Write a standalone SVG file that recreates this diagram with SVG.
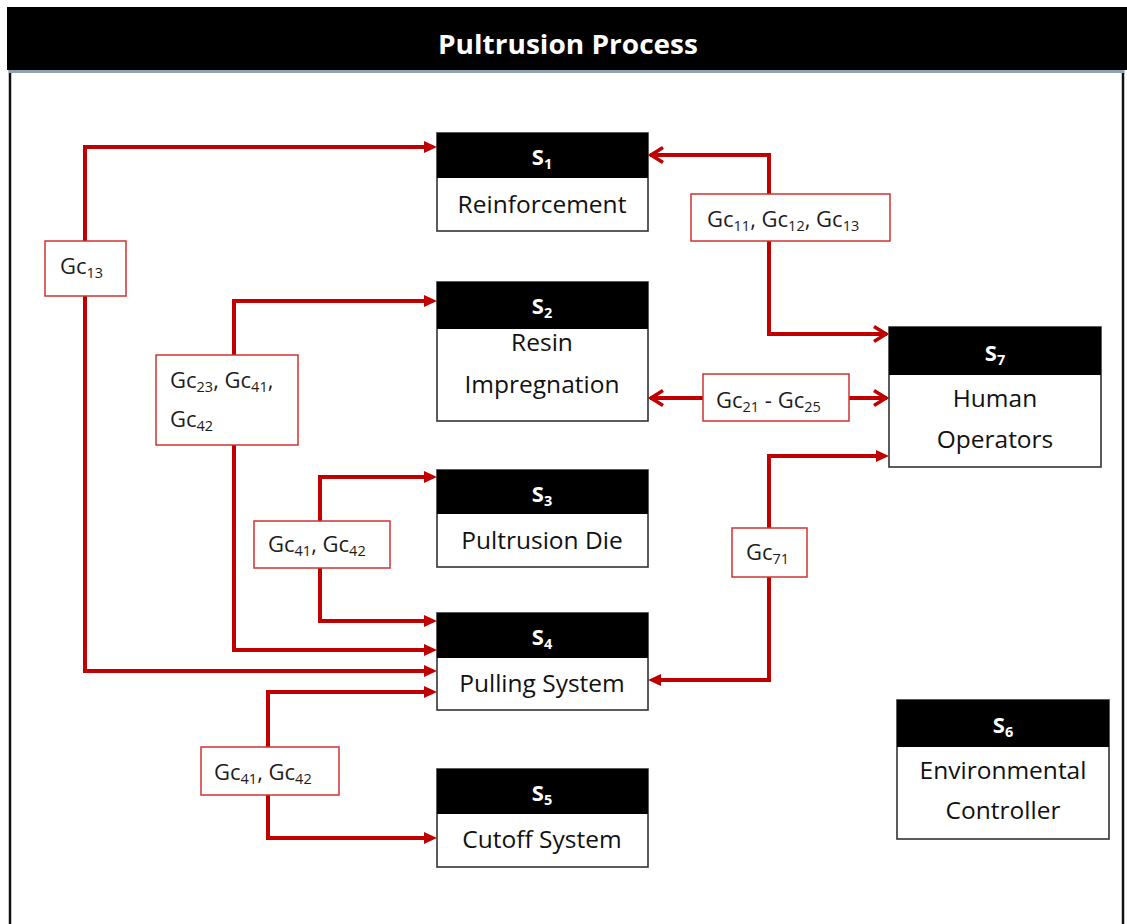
<svg xmlns="http://www.w3.org/2000/svg" width="1127" height="924" viewBox="0 0 1127 924">
  <style>
    .frame { fill: #ffffff; stroke: #111111; stroke-width: 2.5; }
    .title { font-family: "Open Sans", "Liberation Sans", sans-serif; font-weight: bold; font-size: 27px; fill: #ffffff; }
    .box { fill: #ffffff; stroke: #333333; stroke-width: 1.6; }
    .head { fill: #000000; }
    .hd { font-family: "Open Sans", "Liberation Sans", sans-serif; font-weight: bold; font-size: 22px; fill: #ffffff; text-anchor: middle; }
    .body { font-family: "Open Sans", "Liberation Sans", sans-serif; font-size: 24.5px; fill: #111111; text-anchor: middle; }
    .lbox { fill: #ffffff; stroke: #d03232; stroke-width: 1.5; }
    .lbl { font-family: "Open Sans", "Liberation Sans", sans-serif; font-size: 22px; fill: #1c1c1c; }
    .sub { font-size: 14.5px; }
    .wire { fill: none; stroke: #c00000; stroke-width: 4; }
  </style>
  <defs>
    <marker id="tri" markerUnits="userSpaceOnUse" markerWidth="16" markerHeight="16" viewBox="0 -8 16 16" refX="0" refY="0" orient="auto-start-reverse">
      <path d="M0,-6 L13,0 L0,6 z" fill="#c00000"/>
    </marker>
    <marker id="chev" markerUnits="userSpaceOnUse" markerWidth="20" markerHeight="20" viewBox="-16 -10 20 20" refX="0" refY="0" orient="auto-start-reverse">
      <path d="M-13,-7.5 L-1,0 L-13,7.5" fill="none" stroke="#c00000" stroke-width="3.5" stroke-linejoin="miter"/>
    </marker>
  </defs>

  <!-- page frame and title bar -->
  <rect x="10" y="70" width="1113" height="870" class="frame"/>
  <rect x="7" y="7" width="1120" height="63" fill="#000000"/>
  <rect x="9" y="70" width="1115" height="3" fill="#8ea2b2"/>
  <text x="568" y="54" class="title" text-anchor="middle" textLength="260" lengthAdjust="spacingAndGlyphs">Pultrusion Process</text>

  <!-- connectors -->
  <g id="connectors">
    <path class="wire" d="M424,671 H85 V147 H424" marker-start="url(#tri)" marker-end="url(#tri)"/>
    <path class="wire" d="M424,650 H234 V301 H424" marker-start="url(#tri)" marker-end="url(#tri)"/>
    <path class="wire" d="M424,621 H320 V477 H424" marker-start="url(#tri)" marker-end="url(#tri)"/>
    <path class="wire" d="M424,692 H268 V838 H424" marker-start="url(#tri)" marker-end="url(#tri)"/>
    <path class="wire" d="M650,155 H769 V334 H887" marker-start="url(#chev)" marker-end="url(#chev)"/>
    <path class="wire" d="M650,398 H887" marker-start="url(#chev)" marker-end="url(#chev)"/>
    <path class="wire" d="M661,680 H769 V456 H876" marker-start="url(#tri)" marker-end="url(#tri)"/>

    <g id="lbl-gc13">
      <rect x="45" y="241" width="81" height="55" class="lbox"/>
      <text x="60" y="274" class="lbl">Gc<tspan class="sub" dy="4">13</tspan></text>
    </g>
    <g id="lbl-gc11">
      <rect x="691" y="194" width="199" height="47" class="lbox"/>
      <text x="707" y="227" class="lbl">Gc<tspan class="sub" dy="4">11</tspan><tspan dy="-4">, Gc</tspan><tspan class="sub" dy="4">12</tspan><tspan dy="-4">, Gc</tspan><tspan class="sub" dy="4">13</tspan></text>
    </g>
    <g id="lbl-gc23">
      <rect x="156" y="355" width="142" height="90" class="lbox"/>
      <text x="170" y="388" class="lbl">Gc<tspan class="sub" dy="4">23</tspan><tspan dy="-4">, Gc</tspan><tspan class="sub" dy="4">41</tspan><tspan dy="-4">,</tspan></text>
      <text x="170" y="427" class="lbl">Gc<tspan class="sub" dy="4">42</tspan></text>
    </g>
    <g id="lbl-gc21">
      <rect x="703" y="374" width="146" height="47" class="lbox"/>
      <text x="716" y="408" class="lbl">Gc<tspan class="sub" dy="4">21</tspan><tspan dy="-4"> - Gc</tspan><tspan class="sub" dy="4">25</tspan></text>
    </g>
    <g id="lbl-gc41a">
      <rect x="254" y="521" width="136" height="47" class="lbox"/>
      <text x="268" y="552" class="lbl">Gc<tspan class="sub" dy="4">41</tspan><tspan dy="-4">, Gc</tspan><tspan class="sub" dy="4">42</tspan></text>
    </g>
    <g id="lbl-gc71">
      <rect x="732" y="528" width="75" height="49" class="lbox"/>
      <text x="746" y="560" class="lbl">Gc<tspan class="sub" dy="4">71</tspan></text>
    </g>
    <g id="lbl-gc41b">
      <rect x="201" y="747" width="138" height="48" class="lbox"/>
      <text x="214" y="780" class="lbl">Gc<tspan class="sub" dy="4">41</tspan><tspan dy="-4">, Gc</tspan><tspan class="sub" dy="4">42</tspan></text>
    </g>
  </g>

  <!-- subsystems -->
  <g id="s1">
    <rect x="437" y="133" width="211" height="98" class="box"/>
    <rect x="437" y="133" width="211" height="45" class="head"/>
    <text x="542" y="165" class="hd">S<tspan class="sub" dy="4">1</tspan></text>
    <text x="542" y="213" class="body">Reinforcement</text>
  </g>
  <g id="s2">
    <rect x="437" y="282" width="211" height="139" class="box"/>
    <rect x="437" y="282" width="211" height="47" class="head"/>
    <text x="542" y="314" class="hd">S<tspan class="sub" dy="4">2</tspan></text>
    <text x="542" y="351" class="body">Resin</text>
    <text x="542" y="393" class="body">Impregnation</text>
  </g>
  <g id="s3">
    <rect x="437" y="470" width="211" height="97" class="box"/>
    <rect x="437" y="470" width="211" height="44" class="head"/>
    <text x="542" y="502" class="hd">S<tspan class="sub" dy="4">3</tspan></text>
    <text x="542" y="549" class="body">Pultrusion Die</text>
  </g>
  <g id="s4">
    <rect x="437" y="613" width="211" height="97" class="box"/>
    <rect x="437" y="613" width="211" height="45" class="head"/>
    <text x="542" y="645" class="hd">S<tspan class="sub" dy="4">4</tspan></text>
    <text x="542" y="692" class="body">Pulling System</text>
  </g>
  <g id="s5">
    <rect x="437" y="769" width="211" height="98" class="box"/>
    <rect x="437" y="769" width="211" height="45" class="head"/>
    <text x="542" y="801" class="hd">S<tspan class="sub" dy="4">5</tspan></text>
    <text x="542" y="848" class="body">Cutoff System</text>
  </g>
  <g id="s6">
    <rect x="897" y="700" width="212" height="139" class="box"/>
    <rect x="897" y="700" width="212" height="47" class="head"/>
    <text x="1003" y="733" class="hd">S<tspan class="sub" dy="4">6</tspan></text>
    <text x="1003" y="779" class="body">Environmental</text>
    <text x="1003" y="819" class="body">Controller</text>
  </g>
  <g id="s7">
    <rect x="889" y="327" width="212" height="140" class="box"/>
    <rect x="889" y="327" width="212" height="48" class="head"/>
    <text x="995" y="361" class="hd">S<tspan class="sub" dy="4">7</tspan></text>
    <text x="995" y="407" class="body">Human</text>
    <text x="995" y="448" class="body">Operators</text>
  </g>
</svg>
